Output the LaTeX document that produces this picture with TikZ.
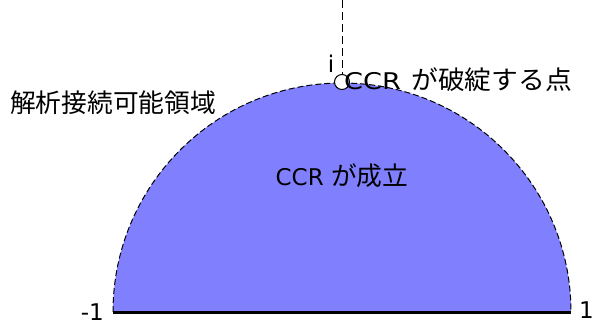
\documentclass[tikz,border=0pt]{standalone}
\usepackage{fontspec}
\setmainfont{DejaVu Sans}
\newfontfamily\jp[Scale=1.12]{Noto Sans CJK JP}
\begin{document}
\begin{tikzpicture}[x=1pt,y=-1pt,
  lbl/.style={font=\fontsize{23}{27}\selectfont, inner sep=0pt},
  region/.style={fill={rgb,255:red,128;green,128;blue,255}, draw=black, line width=1pt, dash pattern=on 6pt off 3pt},
  axisline/.style={line width=3pt, black},
  guide/.style={line width=1pt, dash pattern=on 8pt off 4pt},
  pt/.style={circle, draw=black, fill=white, line width=1pt, minimum size=15pt, inner sep=0pt}]
\useasboundingbox (0,0) rectangle (592,324);
% half disk
\coordinate (L) at (113,312);
\coordinate (R) at (571,312);
\fill[region, draw=none] (L) arc[start angle=180, end angle=360, radius=229] -- cycle;
\draw[region, fill=none] (L) arc[start angle=180, end angle=360, radius=229];
\draw[axisline] (L) -- (R);
\coordinate (top) at (342,0);
\node[pt] (p) at (342,82) {};
\draw[guide] (top) -- (p.north);
\node[lbl, anchor=base east] (m1) at (104,320) {-1};
\node[lbl, anchor=base west] (one) at (579,318) {1};
\node[lbl, anchor=base] (i) at (331,72) {i};
\node[lbl, anchor=base west] (brk) at (344,89) {\scalebox{1.18}[1]{CCR}\hspace{0.45em}{\jp\scalebox{1.04}[1]{が破綻する点}}};
\node[lbl, anchor=base west] (ana) at (10,112) {\jp 解析接続可能領域};
\node[lbl, anchor=base] (ok) at (342,185) {CCR {\jp が成立}};
\end{tikzpicture}
\end{document}
